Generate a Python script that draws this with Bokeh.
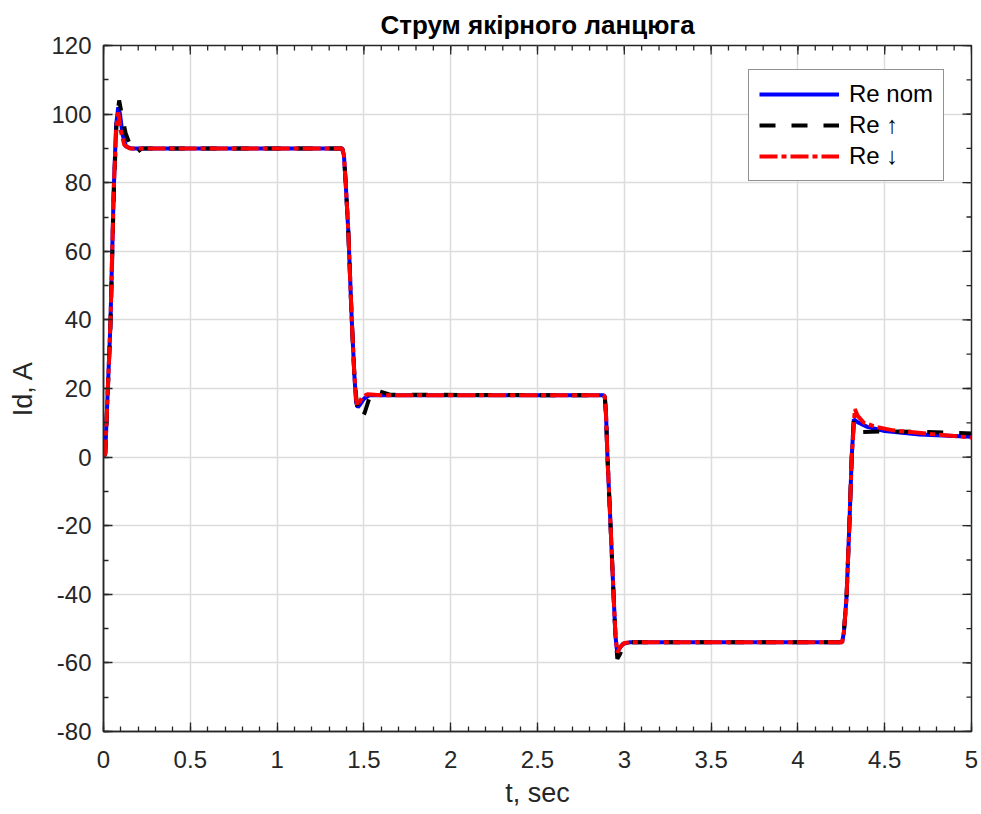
import math
from bokeh.plotting import figure
from bokeh.models import Range1d, FixedTicker, Legend, LegendItem
from bokeh.embed import file_html
from bokeh.resources import INLINE

# ---- data ----
t_nom = [0, 0.01, 0.04, 0.059, 0.073, 0.085, 0.095, 0.11, 0.13, 0.16, 0.3,
         1.375, 1.385, 1.395, 1.41, 1.43, 1.445, 1.455, 1.465, 1.48, 1.5, 1.53, 1.6,
         2.88, 2.888, 2.895, 2.903, 2.92, 2.938, 2.949, 2.958, 2.97, 2.99, 3.03,
         4.255, 4.265, 4.28, 4.297, 4.31, 4.322, 4.35, 4.4, 4.5, 4.7, 5.0]
id_nom = [0, 1, 39, 78, 97, 102, 100, 94, 90.5, 90, 90,
          90, 88, 80, 66, 40, 24, 16, 14.5, 15.5, 17, 18, 18,
          18, 17.5, 12, 0, -19, -40, -52, -56.5, -56, -54.5, -54,
          -54, -51, -41, -19, 0, 11, 10, 8.8, 7.6, 6.6, 5.9]

t_up = [0, 0.01, 0.04, 0.06, 0.075, 0.09, 0.105, 0.127, 0.16, 0.19, 0.22, 0.3,
        1.375, 1.385, 1.395, 1.41, 1.43, 1.445, 1.46, 1.475, 1.49, 1.505, 1.53, 1.57, 1.6, 1.65,
        2.88, 2.888, 2.895, 2.903, 2.92, 2.938, 2.949, 2.96, 2.975, 2.995, 3.025,
        4.255, 4.265, 4.28, 4.297, 4.31, 4.322, 4.34, 4.36, 4.5, 4.75, 5.0]
id_up = [0, 1, 38, 78, 97, 104, 100, 94.5, 90, 88.7, 90, 90,
         90, 88, 80, 66, 40, 24, 15, 12.5, 11.5, 13, 17, 19.5, 19, 18.2,
         18, 17.5, 12, 0, -19, -40, -52, -58.8, -57.5, -55, -54,
         -54, -51, -41, -19, 0, 10.5, 8, 7.3, 7.5, 7.3, 6.9]

t_down = [0, 0.01, 0.04, 0.059, 0.073, 0.085, 0.1, 0.12, 0.15, 0.3,
          1.375, 1.385, 1.395, 1.41, 1.43, 1.445, 1.455, 1.462, 1.475, 1.49, 1.52, 1.6,
          2.88, 2.888, 2.895, 2.903, 2.92, 2.938, 2.949, 2.96, 2.975, 3.0, 3.03,
          4.255, 4.265, 4.28, 4.297, 4.31, 4.328, 4.345, 4.38, 4.45, 4.55, 4.75, 5.0]
id_down = [0, 1, 39, 78, 96, 100.5, 95, 91, 90, 90,
           90, 88, 80, 66, 40, 24, 17, 15, 16, 17.5, 18.3, 18,
           18, 17.5, 12, 0, -19, -40, -52, -57, -55.5, -54.2, -54,
           -54, -51, -41, -19, 0, 14, 12, 10, 8.8, 7.8, 6.8, 5.7]

x_ticks = [0, 0.5, 1, 1.5, 2, 2.5, 3, 3.5, 4, 4.5, 5]
x_tick_labels = ["0", "0.5", "1", "1.5", "2", "2.5", "3", "3.5", "4", "4.5", "5"]
y_ticks = [-80, -60, -40, -20, 0, 20, 40, 60, 80, 100, 120]
y_tick_labels = ["-80", "-60", "-40", "-20", "0", "20", "40", "60", "80", "100", "120"]
x_minor = [i / 10 for i in range(0, 51)]
y_minor = list(range(-80, 121, 10))
x_min, x_max = 0, 5
y_min, y_max = -80, 120

title_text = "Струм якірного ланцюга"
x_label = "t, sec"
y_label = "Id, A"
series_labels = ["Re nom", "Re \u2191", "Re \u2193"]

FONT = "Liberation Sans"
AX = "#262626"

p = figure(width=981, height=814, x_range=Range1d(x_min, x_max), y_range=Range1d(y_min, y_max),
           output_backend="svg", toolbar_location=None,
           min_border_left=103, min_border_right=10, min_border_top=45, min_border_bottom=83,
           background_fill_color="white", border_fill_color="white")

p.title.text = title_text
p.title.align = "center"
p.title.text_font = FONT
p.title.text_font_size = "26px"
p.title.text_font_style = "bold"
p.title.text_color = "black"
p.title.standoff = 11

xt = FixedTicker(ticks=x_ticks, minor_ticks=x_minor)
yt = FixedTicker(ticks=y_ticks, minor_ticks=y_minor)

def style_axis(ax, ticker):
    ax.ticker = ticker
    ax.axis_line_color = AX
    ax.axis_line_width = 1.5
    ax.major_tick_line_color = AX
    ax.minor_tick_line_color = AX
    ax.major_tick_line_width = 1.3
    ax.minor_tick_line_width = 1.3
    ax.major_tick_in = 9
    ax.major_tick_out = 0
    ax.minor_tick_in = 5
    ax.minor_tick_out = 0
    ax.major_label_text_font = FONT
    ax.major_label_text_font_size = "24px"
    ax.major_label_text_color = AX

xa = p.xaxis[0]
style_axis(xa, xt)
xa.major_label_overrides = {float(v): s for v, s in zip(x_ticks, x_tick_labels)}
xa.major_label_standoff = 19
xa.axis_label = x_label
xa.axis_label_text_font = FONT
xa.axis_label_text_font_size = "27px"
xa.axis_label_text_font_style = "normal"
xa.axis_label_text_color = AX
xa.axis_label_standoff = 7

ya = p.yaxis[0]
style_axis(ya, yt)
ya.major_label_overrides = {float(v): s for v, s in zip(y_ticks, y_tick_labels)}
ya.major_label_standoff = 12
ya.axis_label = y_label
ya.axis_label_text_font = FONT
ya.axis_label_text_font_size = "27px"
ya.axis_label_text_font_style = "normal"
ya.axis_label_text_color = AX
ya.axis_label_standoff = 10

p.xgrid.ticker = xt
p.ygrid.ticker = yt
for g in (p.xgrid[0], p.ygrid[0]):
    g.grid_line_color = "#dcdcdc"
    g.grid_line_width = 1.5

p.outline_line_color = AX
p.outline_line_width = 1.5

# mirrored tick marks on the top and right edges of the box
p.ray(x=x_ticks, y=[y_max] * len(x_ticks), length=9, length_units="screen",
      angle=-math.pi / 2, line_color=AX, line_width=1.3)
p.ray(x=x_minor, y=[y_max] * len(x_minor), length=5, length_units="screen",
      angle=-math.pi / 2, line_color=AX, line_width=1.3)
p.ray(x=[x_max] * len(y_ticks), y=y_ticks, length=9, length_units="screen",
      angle=math.pi, line_color=AX, line_width=1.3)
p.ray(x=[x_max] * len(y_minor), y=y_minor, length=5, length_units="screen",
      angle=math.pi, line_color=AX, line_width=1.3)

r1 = p.line(t_nom, id_nom, line_color="#0000ff", line_width=4)
r2 = p.line(t_up, id_up, line_color="black", line_width=4, line_dash="16 16")
r3 = p.line(t_down, id_down, line_color="#ff0000", line_width=4, line_dash="18 4 5 4")

legend = Legend(items=[LegendItem(label=series_labels[0], renderers=[r1]),
                       LegendItem(label=series_labels[1], renderers=[r2]),
                       LegendItem(label=series_labels[2], renderers=[r3])],
                location=(645, 550))
legend.padding = 10
legend.margin = 0
legend.spacing = 3
legend.label_height = 28
legend.glyph_height = 28
legend.glyph_width = 80
legend.label_standoff = 10
legend.label_text_font = FONT
legend.label_text_font_size = "24px"
legend.label_text_color = "black"
legend.border_line_color = AX
legend.border_line_width = 1.5
legend.background_fill_color = "white"
legend.background_fill_alpha = 1
p.add_layout(legend, "center")

open("out.html", "w").write(file_html(p, INLINE))
